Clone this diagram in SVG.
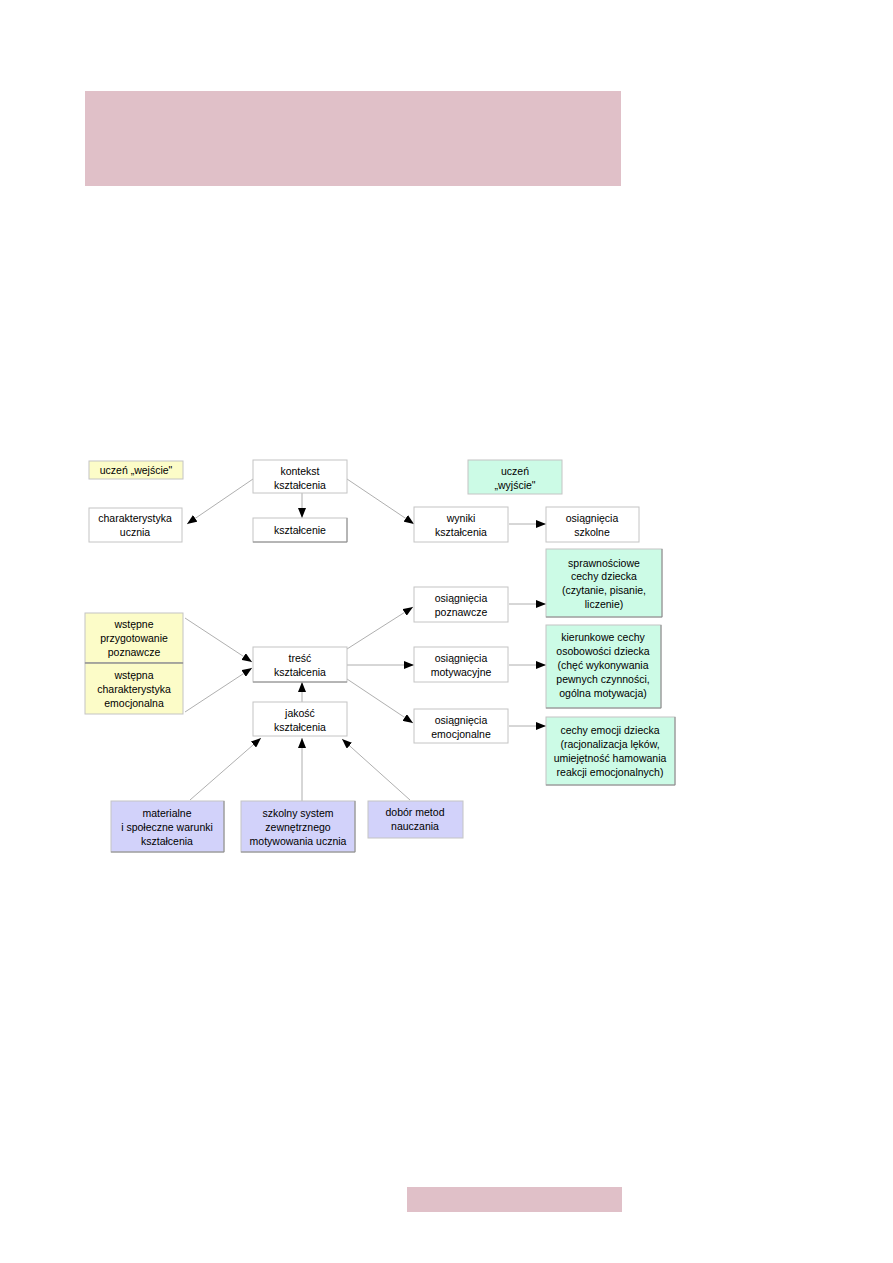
<svg xmlns="http://www.w3.org/2000/svg" width="893" height="1263" viewBox="0 0 893 1263">
<style>
text{font-family:"Liberation Sans",Arial,sans-serif;font-size:10.5px;fill:#000;text-anchor:middle}
.b{stroke:#c4c4c4;stroke-width:1}
.w{fill:#fff}
.y{fill:#fcfcc8}
.c{fill:#ccfbe6}
.v{fill:#d2d2fa}
.sh{fill:none;stroke:#8a8a8a;stroke-width:1}
.ln{stroke:#9a9a9a;stroke-width:0.8;fill:none;marker-end:url(#ah)}
</style>
<defs>
<marker id="ah" viewBox="0 0 10 8" refX="10" refY="4" markerWidth="10" markerHeight="8" markerUnits="userSpaceOnUse" orient="auto">
<path d="M0,0 L10,4 L0,8 Z" fill="#000"/>
</marker>
</defs>
<rect x="85" y="91" width="536" height="95" fill="#e0c0c8"/>
<rect x="407" y="1187" width="215" height="25" fill="#e0c0c8"/>

<g id="connectors">
<line class="ln" x1="253" y1="479" x2="187" y2="524"/>
<line class="ln" x1="302" y1="493" x2="302" y2="518"/>
<line class="ln" x1="347" y1="479" x2="414" y2="524"/>
<line class="ln" x1="509" y1="524" x2="546" y2="524"/>
<line class="ln" x1="185" y1="618" x2="252" y2="662"/>
<line class="ln" x1="185" y1="712" x2="252" y2="668"/>
<line class="ln" x1="302" y1="702" x2="302" y2="682"/>
<line class="ln" x1="347" y1="649" x2="413" y2="607"/>
<line class="ln" x1="347" y1="665" x2="414" y2="665"/>
<line class="ln" x1="347" y1="679" x2="413" y2="723"/>
<line class="ln" x1="509" y1="604" x2="546" y2="604"/>
<line class="ln" x1="509" y1="665" x2="546" y2="665"/>
<line class="ln" x1="509" y1="726" x2="546" y2="726"/>
<line class="ln" x1="190" y1="800" x2="261" y2="738"/>
<line class="ln" x1="302" y1="801" x2="302" y2="738"/>
<line class="ln" x1="410" y1="800" x2="342" y2="739"/>
</g>

<g id="n-wejscie"><rect class="b y" x="89" y="461" width="94" height="18"/><text x="136" y="474">uczeń „wejście"</text></g>
<g id="n-kontekst"><rect class="b w" x="253" y="460" width="94" height="33"/><text x="300" y="475">kontekst</text><text x="300" y="489">kształcenia</text></g>
<g id="n-wyjscie"><rect class="b c" x="468" y="460" width="94" height="34"/><text x="515" y="475">uczeń</text><text x="515" y="489">„wyjście"</text></g>
<g id="n-charakterystyka"><rect class="b w" x="89" y="508" width="93" height="34"/><text x="135" y="522">charakterystyka</text><text x="135" y="536">ucznia</text></g>
<g id="n-ksztalcenie"><rect class="b w" x="253" y="518" width="94" height="24"/><polyline class="sh" points="253,542 347,542 347,518"/><text x="300" y="534">kształcenie</text></g>
<g id="n-wyniki"><rect class="b w" x="414" y="507" width="94" height="35"/><text x="461" y="522">wyniki</text><text x="461" y="536">kształcenia</text></g>
<g id="n-szkolne"><rect class="b w" x="546" y="507" width="93" height="35"/><text x="592" y="522">osiągnięcia</text><text x="592" y="536">szkolne</text></g>

<g id="n-sprawnosciowe"><rect class="b c" x="546" y="549" width="116" height="68"/><polyline class="sh" points="546,617 662,617 662,549"/><text x="604" y="567">sprawnościowe</text><text x="604" y="580">cechy dziecka</text><text x="604" y="594">(czytanie, pisanie,</text><text x="604" y="608">liczenie)</text></g>
<g id="n-poznawcze"><rect class="b w" x="414" y="587" width="94" height="35"/><text x="461" y="602">osiągnięcia</text><text x="461" y="616">poznawcze</text></g>
<g id="n-wstepne"><rect class="b y" x="85" y="613" width="98" height="50"/><text x="134" y="628">wstępne</text><text x="134" y="642">przygotowanie</text><text x="134" y="656">poznawcze</text></g>
<g id="n-wstepna"><rect class="b y" x="85" y="663" width="98" height="51"/><line x1="85" y1="663" x2="183" y2="663" stroke="#777" stroke-width="1"/><text x="134" y="679">wstępna</text><text x="134" y="693">charakterystyka</text><text x="134" y="707">emocjonalna</text></g>
<g id="n-kierunkowe"><rect class="b c" x="546" y="625" width="115" height="83"/><polyline class="sh" points="546,708 661,708 661,625"/><text x="603" y="641">kierunkowe cechy</text><text x="603" y="655">osobowości dziecka</text><text x="603" y="669">(chęć wykonywania</text><text x="603" y="683">pewnych czynności,</text><text x="603" y="697">ogólna motywacja)</text></g>
<g id="n-tresc"><rect class="b w" x="253" y="647" width="94" height="35"/><polyline class="sh" points="253,682 347,682"/><text x="300" y="662">treść</text><text x="300" y="676">kształcenia</text></g>
<g id="n-motywacyjne"><rect class="b w" x="414" y="647" width="94" height="35"/><text x="461" y="662">osiągnięcia</text><text x="461" y="676">motywacyjne</text></g>
<g id="n-jakosc"><rect class="b w" x="253" y="702" width="94" height="34"/><text x="300" y="717">jakość</text><text x="300" y="731">kształcenia</text></g>
<g id="n-emocjonalne"><rect class="b w" x="414" y="709" width="94" height="34"/><text x="461" y="724">osiągnięcia</text><text x="461" y="738">emocjonalne</text></g>
<g id="n-cechy-emocji"><rect class="b c" x="546" y="717" width="129" height="68"/><polyline class="sh" points="546,785 675,785 675,717"/><text x="610" y="734">cechy emocji dziecka</text><text x="610" y="748">(racjonalizacja lęków,</text><text x="610" y="762">umiejętność hamowania</text><text x="610" y="776">reakcji emocjonalnych)</text></g>

<g id="n-materialne"><rect class="b v" x="111" y="801" width="113" height="51"/><polyline class="sh" points="111,852 224,852 224,801"/><text x="167" y="817">materialne</text><text x="167" y="831">i społeczne warunki</text><text x="167" y="845">kształcenia</text></g>
<g id="n-szkolny"><rect class="b v" x="241" y="801" width="114" height="51"/><polyline class="sh" points="241,852 355,852 355,801"/><text x="298" y="817">szkolny system</text><text x="298" y="831">zewnętrznego</text><text x="298" y="845">motywowania ucznia</text></g>
<g id="n-dobor"><rect class="b v" x="368" y="801" width="95" height="37"/><text x="415" y="816">dobór metod</text><text x="415" y="830">nauczania</text></g>
</svg>
